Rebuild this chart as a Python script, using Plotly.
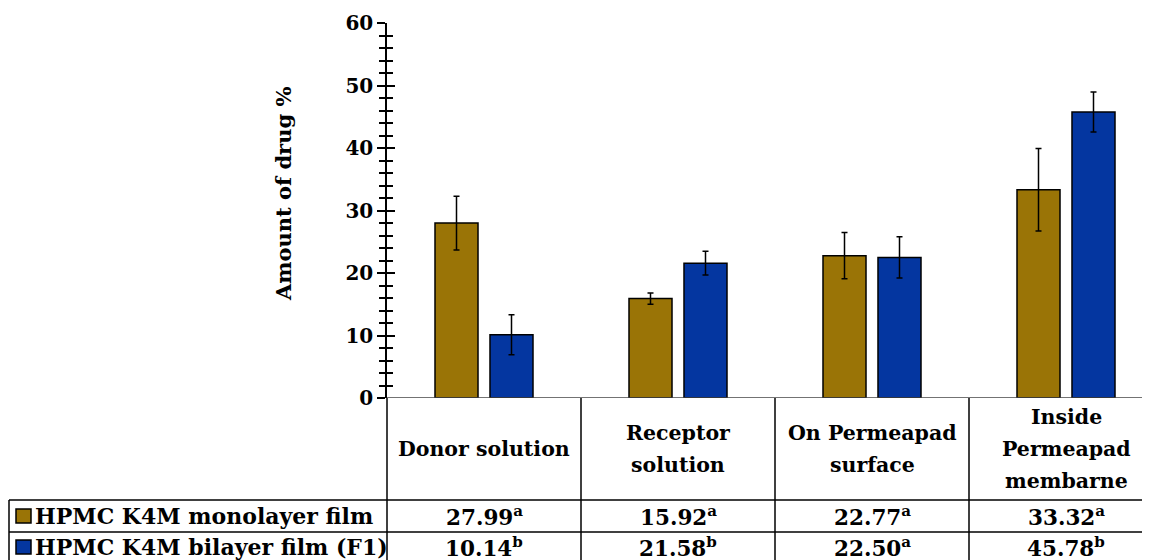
import plotly.graph_objects as go

categories = ["Donor solution", "Receptor<br>solution", "On Permeapad<br>surface",
              "Inside<br>Permeapad<br>membarne"]
series_names = ["HPMC K4M monolayer film", "HPMC K4M bilayer film (F1)"]
mono_values = [27.99, 15.92, 22.77, 33.32]
mono_sd = [4.3, 0.9, 3.7, 6.6]
mono_letters = ["a", "a", "a", "a"]
bi_values = [10.14, 21.58, 22.50, 45.78]
bi_sd = [3.2, 1.9, 3.3, 3.2]
bi_letters = ["b", "b", "a", "b"]
y_ticks = [0, 10, 20, 30, 40, 50, 60]

GOLD = "#9A7406"
BLUE = "#0436A0"
FONT = "DejaVu Serif"

OFF = 8  # page body margin
W, H = 1150 - OFF, 560 - OFF
L, T = 387 - OFF, 23 - OFF
B = H - (398 - OFF)
R = 0
plot_w = W - L - R
plot_h = H - T - B
cat_w = 194.0
x_max = -0.5 + plot_w / cat_w


def py(p):
    """window pixel y -> paper y"""
    return (H - B - (p - OFF)) / plot_h


def px(p):
    """window pixel x -> paper x"""
    return ((p - OFF) - L) / plot_w


xs = list(range(len(categories)))

fig = go.Figure()
fig.add_trace(go.Bar(
    x=xs, y=mono_values, name=series_names[0],
    marker=dict(color=GOLD, line=dict(color="black", width=1.5)),
    error_y=dict(type="data", array=mono_sd, visible=True, color="black",
                 thickness=1.5, width=3),
))
fig.add_trace(go.Bar(
    x=xs, y=bi_values, name=series_names[1],
    marker=dict(color=BLUE, line=dict(color="black", width=1.5)),
    error_y=dict(type="data", array=bi_sd, visible=True, color="black",
                 thickness=1.5, width=3),
))

# invisible trace on the overlay axis so its (inside) ticks render
fig.add_trace(go.Scatter(x=[0], y=[0], yaxis="y2", mode="markers",
                         marker=dict(opacity=0), showlegend=False, hoverinfo="skip"))

fig.update_layout(
    width=W, height=H,
    margin=dict(l=L, r=R, t=T, b=B),
    paper_bgcolor="white", plot_bgcolor="white",
    barmode="group", bargap=0.433, bargroupgap=0.218,
    showlegend=False,
    font=dict(family=FONT, size=20, color="black", weight="bold"),
    xaxis=dict(range=[-0.5, x_max], showticklabels=False, ticks="",
               showgrid=False, zeroline=False, showline=False, fixedrange=True),
    yaxis=dict(range=[0, 60], tickvals=y_ticks, ticks="outside", ticklen=8,
               tickwidth=1.5, tickcolor="black", showline=True, linecolor="black",
               linewidth=1.5, showgrid=False, zeroline=False,
               tickfont=dict(family=FONT, size=20, weight="bold"),
               minor=dict(dtick=2, ticks="outside", ticklen=6, tickwidth=1.5,
                          tickcolor="black", showgrid=False)),
    yaxis2=dict(range=[0, 60], overlaying="y", side="left", tickvals=y_ticks,
                ticks="inside", ticklen=8, tickwidth=1.5, tickcolor="black",
                showticklabels=False, showline=False, showgrid=False, zeroline=False,
                minor=dict(dtick=2, ticks="inside", ticklen=6, tickwidth=1.5,
                           tickcolor="black", showgrid=False)),
)

shapes = []
line = dict(color="black", width=1.5)
# x-axis baseline
shapes.append(dict(type="line", xref="paper", yref="y", x0=0, x1=1, y0=0, y1=0,
                   line=dict(color="#444444", width=1.5)))
# y-axis line continues down the table
shapes.append(dict(type="line", xref="paper", yref="paper", x0=0, x1=0,
                   y0=0, y1=py(566), line=line))
# column separators
for k in range(len(categories) - 1):
    shapes.append(dict(type="line", xref="x", yref="paper", x0=k + 0.5, x1=k + 0.5,
                       y0=0, y1=py(566), line=line))
# row lines
for rp in [500, 532, 564]:
    shapes.append(dict(type="line", xref="paper", yref="paper", x0=px(9), x1=1.01,
                       y0=py(rp), y1=py(rp), line=line))
# legend-cell left border
shapes.append(dict(type="line", xref="paper", yref="paper", x0=px(9), x1=px(9),
                   y0=py(500), y1=py(566), line=line))

annotations = []
# y-axis title
annotations.append(dict(text="Amount of drug %", xref="paper", yref="paper",
                        x=px(284), y=py(194), textangle=-90, showarrow=False,
                        xanchor="center", yanchor="middle",
                        font=dict(family=FONT, size=21, weight="bold")))
# header row (each wrapped line placed with the reference's 32px line pitch)
LINE_PITCH = 32
for k, c in enumerate(categories):
    parts = c.split("<br>")
    n = len(parts)
    for i, part in enumerate(parts):
        yc = 449 + (i - (n - 1) / 2) * LINE_PITCH
        annotations.append(dict(text=part, xref="x", yref="paper", x=k, y=py(yc),
                                showarrow=False, xanchor="center", yanchor="middle",
                                font=dict(family=FONT, size=20.5, weight="bold")))
# legend keys & names
row_centers = [516, 547]
colors = [GOLD, BLUE]
for r, (name, col) in enumerate(zip(series_names, colors)):
    yc = row_centers[r]
    shapes.append(dict(type="rect", xref="paper", yref="paper",
                       x0=px(16), x1=px(31), y0=py(yc - 7), y1=py(yc + 7),
                       fillcolor=col, line=dict(color="black", width=1.5)))
    annotations.append(dict(text=name, xref="paper", yref="paper", x=px(33), y=py(yc),
                            showarrow=False, xanchor="left", yanchor="middle",
                            font=dict(family=FONT, size=22, weight="bold")))
# value cells
for r, (vals, letters) in enumerate([(mono_values, mono_letters), (bi_values, bi_letters)]):
    for k, (v, let) in enumerate(zip(vals, letters)):
        annotations.append(dict(text=f"{v:.2f}<sup>{let}</sup>", xref="x", yref="paper",
                                x=k, y=py(row_centers[r]), showarrow=False,
                                xanchor="center", yanchor="middle",
                                font=dict(family=FONT, size=21.5, weight="bold")))

fig.update_layout(shapes=shapes, annotations=annotations)
fig.write_html("out.html")
